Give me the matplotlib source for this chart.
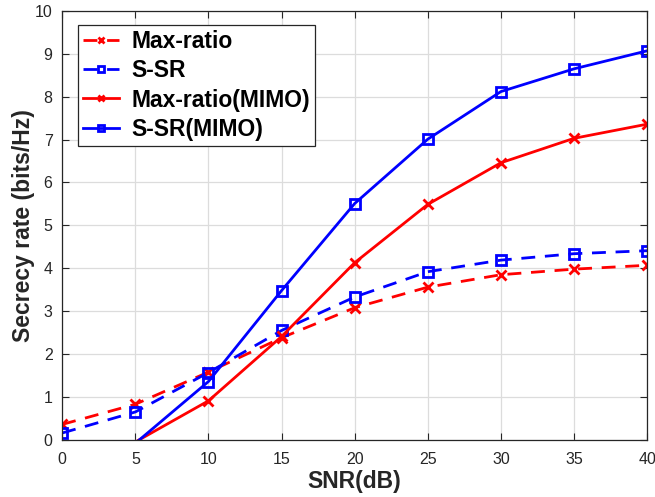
import matplotlib.pyplot as plt

plt.rcParams['font.family'] = ['Liberation Sans', 'DejaVu Sans']

snr = [0, 5, 10, 15, 20, 25, 30, 35, 40]
max_ratio = [0.36, 0.83, 1.58, 2.38, 3.08, 3.56, 3.85, 3.98, 4.07]
s_sr = [0.16, 0.65, 1.57, 2.55, 3.33, 3.92, 4.19, 4.34, 4.41]

snr_mimo = [5, 10, 15, 20, 25, 30, 35, 40]
max_ratio_mimo = [-0.05, 0.91, 2.41, 4.13, 5.49, 6.46, 7.03, 7.36]
s_sr_mimo = [-0.08, 1.36, 3.48, 5.51, 7.01, 8.12, 8.65, 9.07]

fig = plt.figure(figsize=(6.55, 4.97), dpi=100)
ax = fig.add_axes([0.095, 0.115, 0.893, 0.863])

ax.plot(snr, max_ratio, '--', color='red', lw=2, marker='x', ms=7, mew=2,
        dashes=(5, 3.5), label='Max-ratio')
ax.plot(snr, s_sr, '--', color='blue', lw=2, marker='s', ms=7, mew=2,
        mfc='none', dashes=(5, 3.5), label='S-SR')
ax.plot(snr_mimo, max_ratio_mimo, '-', color='red', lw=2, marker='x', ms=7,
        mew=2, markevery=list(range(1, len(snr_mimo))), label='Max-ratio(MIMO)')
ax.plot(snr_mimo, s_sr_mimo, '-', color='blue', lw=2, marker='s', ms=7,
        mew=2, mfc='none', markevery=list(range(1, len(snr_mimo))),
        label='S-SR(MIMO)')

ax.set_xlim(0, 40)
ax.set_ylim(0, 10)
ax.set_xticks(range(0, 41, 5))
ax.set_yticks(range(0, 11))
ax.grid(True, color='#dcdcdc', lw=0.9)
ax.set_axisbelow(True)
ax.tick_params(direction='in', top=True, right=True, labelsize=11.5,
               colors='#262626', length=5)
ax.tick_params(axis='x', pad=9)
ax.tick_params(axis='y', pad=7)
for s in ax.spines.values():
    s.set_color('#262626')
    s.set_linewidth(0.9)

ax.set_xlabel('SNR(dB)', fontsize=16.5, fontweight='bold', labelpad=2,
              color='#262626')
ax.set_ylabel('Secrecy rate (bits/Hz)', fontsize=16.5, fontweight='bold',
              color='#262626')
ax.yaxis.set_label_coords(-0.046, 0.5)

leg = ax.legend(loc='upper left', bbox_to_anchor=(0.0275, 0.967), fancybox=False,
                edgecolor='#262626', framealpha=1,
                prop={'weight': 'bold', 'size': 16.5}, handlelength=1.55,
                borderpad=0.22, labelspacing=0.27, handletextpad=0.55,
                borderaxespad=0.0)
leg.get_frame().set_linewidth(0.9)
for h in leg.legend_handles:
    h.set_markersize(5)

fig.savefig('out.png', dpi=100)
